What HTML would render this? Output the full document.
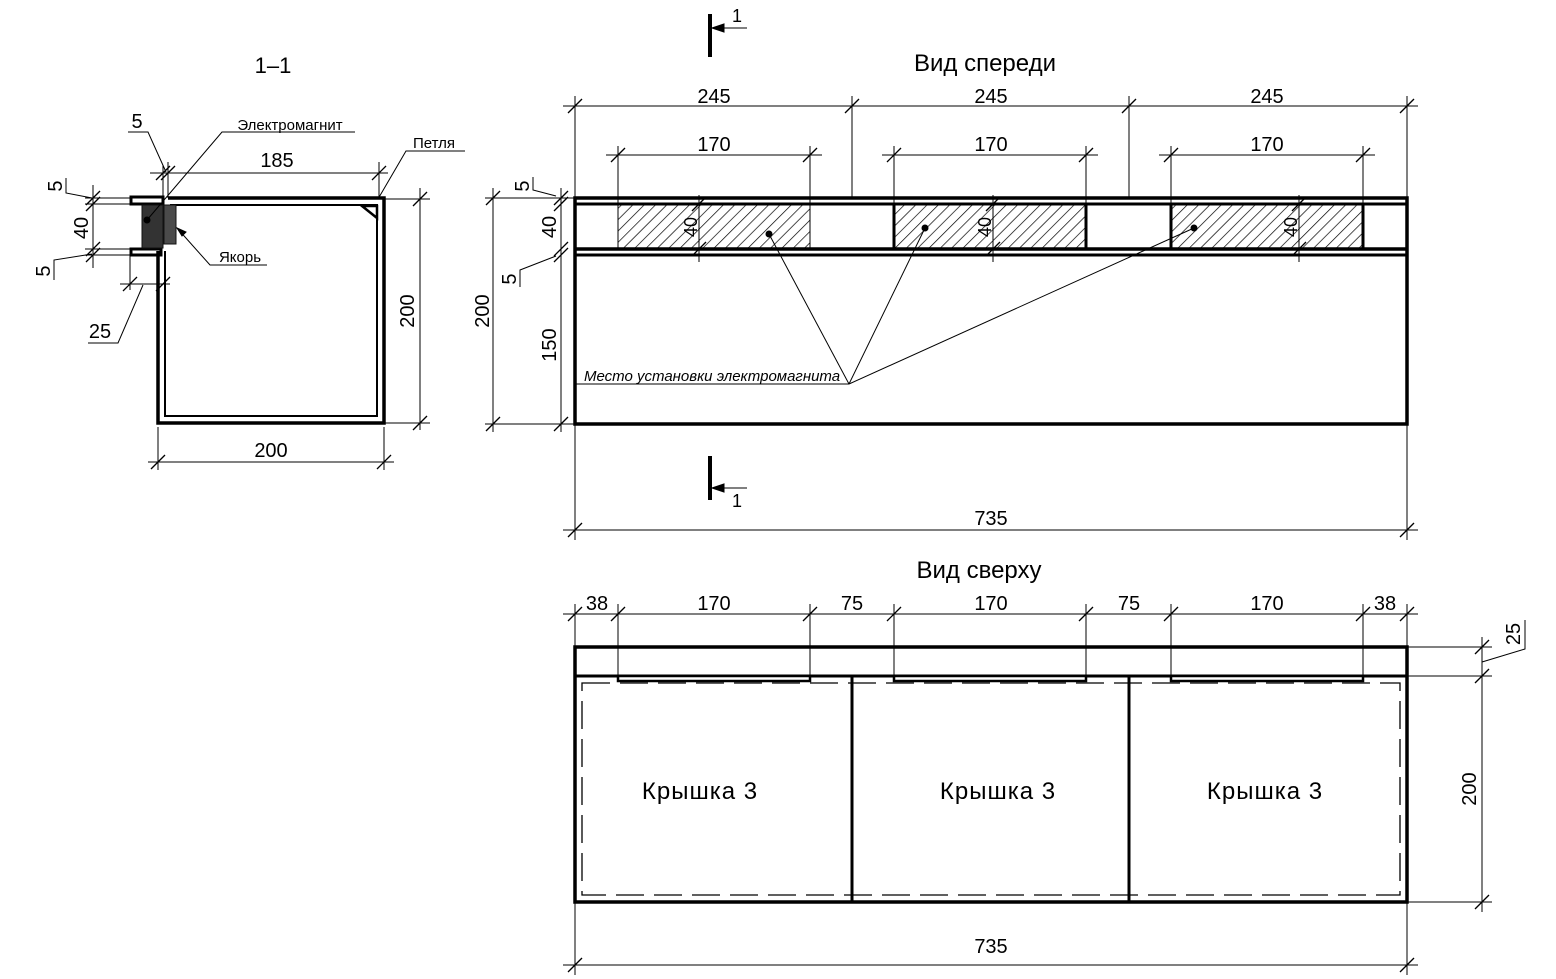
<!DOCTYPE html>
<html><head><meta charset="utf-8"><style>
html,body{margin:0;padding:0;background:#fff}
svg{display:block}
text{font-family:"Liberation Sans",sans-serif;fill:#000}
</style></head><body>
<svg width="1556" height="979" viewBox="0 0 1556 979" xmlns="http://www.w3.org/2000/svg">
<defs>
<pattern id="h" patternUnits="userSpaceOnUse" width="8" height="8" patternTransform="rotate(45)">
<line x1="0" y1="0" x2="0" y2="8" stroke="#000" stroke-width="1.4"/>
</pattern>
<g id="t"><line x1="-7" y1="7" x2="7" y2="-7" stroke="#000" stroke-width="1.3"/></g>
</defs>
<g stroke="#000" fill="none" stroke-width="1">

<path d="M168 198 H384 V423 H158 V251" stroke-width="3.5"/>
<path d="M170 205 H377 V416 H165 V251" stroke-width="2"/>
<rect x="131" y="197" width="32" height="7" stroke-width="3"/>
<rect x="131" y="249" width="30" height="6" stroke-width="3"/>
<rect x="142" y="205" width="21" height="43" fill="#333" stroke="#111"/>
<rect x="164" y="205" width="12" height="39" fill="#4a4a4a" stroke="#111"/>
<circle cx="147" cy="220" r="3" fill="#000"/>
<path d="M362 206 L377 218 V206 Z" stroke-width="2.5"/>
<line x1="150" y1="173" x2="388" y2="173"/>
<line x1="163" y1="165" x2="163" y2="198"/>
<line x1="168" y1="162" x2="168" y2="198"/>
<line x1="379" y1="162" x2="379" y2="198"/>
<use href="#t" x="163" y="173"/><use href="#t" x="168" y="173"/><use href="#t" x="379" y="173"/>
<polyline points="128,132 148,132 166,172"/>
<line x1="384" y1="199" x2="430" y2="199"/><line x1="384" y1="423" x2="430" y2="423"/>
<line x1="420" y1="188" x2="420" y2="430"/>
<use href="#t" x="420" y="199"/><use href="#t" x="420" y="423"/>
<line x1="158" y1="427" x2="158" y2="470"/><line x1="384" y1="427" x2="384" y2="470"/>
<line x1="148" y1="462" x2="394" y2="462"/>
<use href="#t" x="158" y="462"/><use href="#t" x="384" y="462"/>
<line x1="85" y1="198" x2="131" y2="198"/><line x1="85" y1="204" x2="131" y2="204"/>
<line x1="85" y1="249" x2="131" y2="249"/><line x1="85" y1="255" x2="131" y2="255"/>
<line x1="93" y1="185" x2="93" y2="268"/>
<use href="#t" x="93" y="198"/><use href="#t" x="93" y="204"/><use href="#t" x="93" y="249"/><use href="#t" x="93" y="255"/>
<polyline points="66,178 66,193 92,198"/>
<polyline points="54,280 54,260 92,254"/>
<line x1="130" y1="256" x2="130" y2="290"/>
<line x1="120" y1="284" x2="170" y2="284"/>
<use href="#t" x="130" y="284"/><use href="#t" x="163" y="284"/>
<polyline points="88,343 118,343 143,285"/>
<polyline points="355,132 222,132 147,220"/>
<polyline points="267,265 210,265 177,228"/>
<path d="M177 228 L186 232 L182 236 Z" fill="#000"/>
<polyline points="465,151 406,151 378,199"/>

<rect x="575" y="198" width="832" height="226" stroke-width="3.5"/>
<line x1="575" y1="204" x2="1407" y2="204" stroke-width="3"/>
<line x1="575" y1="249" x2="1407" y2="249" stroke-width="3.5"/>
<line x1="575" y1="255" x2="1407" y2="255" stroke-width="3"/>
<rect x="618" y="204" width="192" height="45" fill="url(#h)" stroke-width="1"/>
<rect x="894" y="204" width="192" height="45" fill="url(#h)" stroke-width="3"/>
<rect x="1171" y="204" width="192" height="45" fill="url(#h)" stroke-width="3"/>
<line x1="699" y1="195" x2="699" y2="262"/><use href="#t" x="699" y="204"/><use href="#t" x="699" y="249"/>
<line x1="993" y1="195" x2="993" y2="262"/><use href="#t" x="993" y="204"/><use href="#t" x="993" y="249"/>
<line x1="1299" y1="195" x2="1299" y2="262"/><use href="#t" x="1299" y="204"/><use href="#t" x="1299" y="249"/>
<line x1="563" y1="106" x2="1418" y2="106"/>
<line x1="575" y1="96" x2="575" y2="198"/><line x1="852" y1="96" x2="852" y2="198"/>
<line x1="1129" y1="96" x2="1129" y2="198"/><line x1="1407" y1="96" x2="1407" y2="198"/>
<use href="#t" x="575" y="106"/><use href="#t" x="852" y="106"/><use href="#t" x="1129" y="106"/><use href="#t" x="1407" y="106"/>
<line x1="606" y1="155" x2="822" y2="155"/><line x1="882" y1="155" x2="1098" y2="155"/><line x1="1159" y1="155" x2="1375" y2="155"/>
<line x1="618" y1="146" x2="618" y2="204"/><line x1="810" y1="146" x2="810" y2="204"/>
<line x1="894" y1="146" x2="894" y2="204"/><line x1="1086" y1="146" x2="1086" y2="204"/>
<line x1="1171" y1="146" x2="1171" y2="204"/><line x1="1363" y1="146" x2="1363" y2="204"/>
<use href="#t" x="618" y="155"/><use href="#t" x="810" y="155"/><use href="#t" x="894" y="155"/><use href="#t" x="1086" y="155"/><use href="#t" x="1171" y="155"/><use href="#t" x="1363" y="155"/>
<line x1="485" y1="198" x2="575" y2="198"/><line x1="485" y1="424" x2="575" y2="424"/>
<line x1="493" y1="188" x2="493" y2="432"/>
<use href="#t" x="493" y="198"/><use href="#t" x="493" y="424"/>
<line x1="561" y1="188" x2="561" y2="432"/>
<use href="#t" x="561" y="198"/><use href="#t" x="561" y="204"/><use href="#t" x="561" y="249"/><use href="#t" x="561" y="255"/><use href="#t" x="561" y="424"/>
<polyline points="533,177 533,190 556,196"/>
<polyline points="520,287 520,270 556,256"/>
<line x1="575" y1="424" x2="575" y2="540"/><line x1="1407" y1="424" x2="1407" y2="540"/>
<line x1="563" y1="530" x2="1418" y2="530"/>
<use href="#t" x="575" y="530"/><use href="#t" x="1407" y="530"/>
<line x1="575" y1="384" x2="849" y2="384"/>
<line x1="769" y1="234" x2="849" y2="384"/>
<line x1="925" y1="228" x2="849" y2="384"/>
<line x1="1194" y1="228" x2="849" y2="384"/>
<circle cx="769" cy="234" r="3" fill="#000"/><circle cx="925" cy="228" r="3" fill="#000"/><circle cx="1194" cy="228" r="3" fill="#000"/>
<line x1="710" y1="14" x2="710" y2="57" stroke-width="4"/>
<line x1="712" y1="28" x2="747" y2="28"/><path d="M712 28 L724 24 L724 32 Z" fill="#000"/>
<line x1="710" y1="456" x2="710" y2="500" stroke-width="4"/>
<line x1="712" y1="488" x2="747" y2="488"/><path d="M712 488 L724 484 L724 492 Z" fill="#000"/>

<rect x="575" y="647" width="832" height="255" stroke-width="3.5"/>
<line x1="575" y1="676" x2="1407" y2="676" stroke-width="3"/>
<line x1="852" y1="676" x2="852" y2="902" stroke-width="3"/>
<line x1="1129" y1="676" x2="1129" y2="902" stroke-width="3"/>
<rect x="582" y="683" width="818" height="212" stroke-dasharray="28,10" stroke-width="1.3"/>
<rect x="618" y="676" width="192" height="5" fill="#fff" stroke-width="2.5"/>
<rect x="894" y="676" width="192" height="5" fill="#fff" stroke-width="2.5"/>
<rect x="1171" y="676" width="192" height="5" fill="#fff" stroke-width="2.5"/>
<line x1="563" y1="614" x2="1418" y2="614"/>
<line x1="575" y1="604" x2="575" y2="647"/><line x1="618" y1="604" x2="618" y2="676"/><line x1="810" y1="604" x2="810" y2="676"/>
<line x1="894" y1="604" x2="894" y2="676"/><line x1="1086" y1="604" x2="1086" y2="676"/>
<line x1="1171" y1="604" x2="1171" y2="676"/><line x1="1363" y1="604" x2="1363" y2="676"/><line x1="1407" y1="604" x2="1407" y2="647"/>
<use href="#t" x="575" y="614"/><use href="#t" x="618" y="614"/><use href="#t" x="810" y="614"/><use href="#t" x="894" y="614"/><use href="#t" x="1086" y="614"/><use href="#t" x="1171" y="614"/><use href="#t" x="1363" y="614"/><use href="#t" x="1407" y="614"/>
<line x1="1407" y1="647" x2="1492" y2="647"/><line x1="1407" y1="676" x2="1492" y2="676"/><line x1="1407" y1="902" x2="1492" y2="902"/>
<line x1="1482" y1="637" x2="1482" y2="912"/>
<use href="#t" x="1482" y="647"/><use href="#t" x="1482" y="676"/><use href="#t" x="1482" y="902"/>
<polyline points="1525,620 1525,649 1482,662"/>
<line x1="575" y1="902" x2="575" y2="975"/><line x1="1407" y1="902" x2="1407" y2="975"/>
<line x1="563" y1="965" x2="1418" y2="965"/>
<use href="#t" x="575" y="965"/><use href="#t" x="1407" y="965"/>
</g>

<g font-size="20">
<text x="273" y="73" text-anchor="middle" font-size="22">1–1</text>
<text x="137" y="128" text-anchor="middle">5</text>
<text x="277" y="167" text-anchor="middle">185</text>
<text x="290" y="130" text-anchor="middle" font-size="15">Электромагнит</text>
<text x="434" y="148" text-anchor="middle" font-size="15">Петля</text>
<text x="240" y="262" text-anchor="middle" font-size="15">Якорь</text>
<text x="100" y="338" text-anchor="middle">25</text>
<text x="271" y="457" text-anchor="middle">200</text>
<text transform="translate(414,311) rotate(-90)" text-anchor="middle">200</text>
<text transform="translate(88,228) rotate(-90)" text-anchor="middle">40</text>
<text transform="translate(62,186) rotate(-90)" text-anchor="middle">5</text>
<text transform="translate(50,271) rotate(-90)" text-anchor="middle">5</text>

<text x="985" y="71" text-anchor="middle" font-size="24">Вид спереди</text>
<text x="737" y="22" text-anchor="middle" font-size="18">1</text>
<text x="737" y="507" text-anchor="middle" font-size="18">1</text>
<text x="714" y="103" text-anchor="middle">245</text>
<text x="991" y="103" text-anchor="middle">245</text>
<text x="1267" y="103" text-anchor="middle">245</text>
<text x="714" y="151" text-anchor="middle">170</text>
<text x="991" y="151" text-anchor="middle">170</text>
<text x="1267" y="151" text-anchor="middle">170</text>
<text transform="translate(697,227) rotate(-90)" text-anchor="middle" font-size="18">40</text>
<text transform="translate(991,227) rotate(-90)" text-anchor="middle" font-size="18">40</text>
<text transform="translate(1297,227) rotate(-90)" text-anchor="middle" font-size="18">40</text>
<text transform="translate(489,311) rotate(-90)" text-anchor="middle">200</text>
<text transform="translate(556,345) rotate(-90)" text-anchor="middle">150</text>
<text transform="translate(556,227) rotate(-90)" text-anchor="middle">40</text>
<text transform="translate(529,186) rotate(-90)" text-anchor="middle">5</text>
<text transform="translate(516,279) rotate(-90)" text-anchor="middle">5</text>
<text x="584" y="381" font-size="15" font-style="italic">Место установки электромагнита</text>
<text x="991" y="525" text-anchor="middle">735</text>

<text x="979" y="578" text-anchor="middle" font-size="24">Вид сверху</text>
<text x="597" y="610" text-anchor="middle">38</text>
<text x="714" y="610" text-anchor="middle">170</text>
<text x="852" y="610" text-anchor="middle">75</text>
<text x="991" y="610" text-anchor="middle">170</text>
<text x="1129" y="610" text-anchor="middle">75</text>
<text x="1267" y="610" text-anchor="middle">170</text>
<text x="1385" y="610" text-anchor="middle">38</text>
<text transform="translate(1520,634) rotate(-90)" text-anchor="middle">25</text>
<text transform="translate(1476,789) rotate(-90)" text-anchor="middle">200</text>
<text x="700" y="799" text-anchor="middle" font-size="24" letter-spacing="1">Крышка 3</text>
<text x="998" y="799" text-anchor="middle" font-size="24" letter-spacing="1">Крышка 3</text>
<text x="1265" y="799" text-anchor="middle" font-size="24" letter-spacing="1">Крышка 3</text>
<text x="991" y="953" text-anchor="middle">735</text>
</g>
</svg>
</body></html>
